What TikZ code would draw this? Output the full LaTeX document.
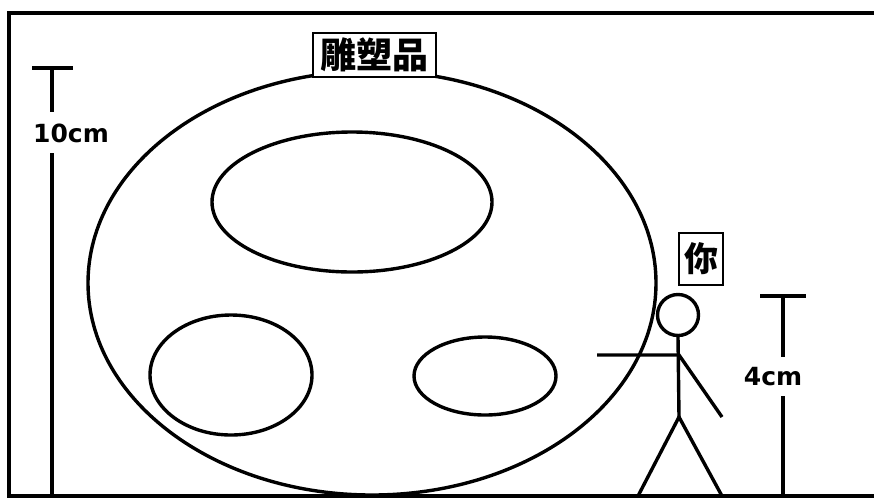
\documentclass[tikz,border=0pt]{standalone}
\usepackage{fontspec}
\newfontfamily\cjk{Noto Sans CJK SC}
\newfontfamily\barfont{DejaVu Sans}
\usetikzlibrary{calc}

\begin{document}
\begin{tikzpicture}[x=1pt,y=-1pt,line width=3.4pt,
		namebox/.style={draw,fill=white,line width=2.8pt,inner sep=0pt,font=\cjk\bfseries},
		barlabel/.style={inner sep=0pt,font=\barfont\bfseries\fontsize{25}{25}\selectfont}]
	\useasboundingbox (0,0) rectangle (874,499);
	% frame
	\draw[line width=4pt] (874,13) -- (9,13) -- (9,496) -- (874,496);

	% the sculpture
	\draw (372,283) ellipse [x radius=284, y radius=212];
	\draw (352,202) ellipse [x radius=140, y radius=70];
	\draw (231,375) ellipse [x radius=81, y radius=60];
	\draw (485,376) ellipse [x radius=71, y radius=39];
	\node[namebox,minimum width=123pt,minimum height=44pt,font=\cjk\bfseries\fontsize{36}{36}\selectfont] (sculpt) at (374.5,55) {雕塑品};

	% stick figure
	\node[draw,circle,minimum size=41pt,inner sep=0pt] (head) at (678,315) {};
	\coordinate (neck) at (679,336);
	\coordinate (hip) at (679,417);
	\coordinate (handL) at (597,355);
	\coordinate (shoulder) at (679,355);
	\coordinate (handR) at (722,417);
	\coordinate (footL) at (638,496);
	\coordinate (footR) at (722,496);
	\draw (head.south) -- (hip);
	\draw (handL) -- (shoulder) -- (handR);
	\draw (footL) -- (hip) -- (footR);
	\node[namebox,minimum width=44pt,minimum height=52pt,font=\cjk\bfseries\fontsize{34}{34}\selectfont] (you) at (701,259) {你};

	% height bars
	\node[barlabel] (ten) at (71,133) {10cm};
	\coordinate (tenTop) at (52,68);
	\coordinate (tenBot) at (52,496);
	\draw (32,68) -- (73,68);
	\draw (tenTop) -- (52,112);
	\draw (52,153) -- (tenBot);

	\node[barlabel] (four) at (773,377) {4cm};
	\coordinate (fourTop) at (783,296);
	\coordinate (fourBot) at (783,496);
	\draw (760,296) -- (806,296);
	\draw (fourTop) -- (783,357);
	\draw (783,396) -- (fourBot);
\end{tikzpicture}
\end{document}
